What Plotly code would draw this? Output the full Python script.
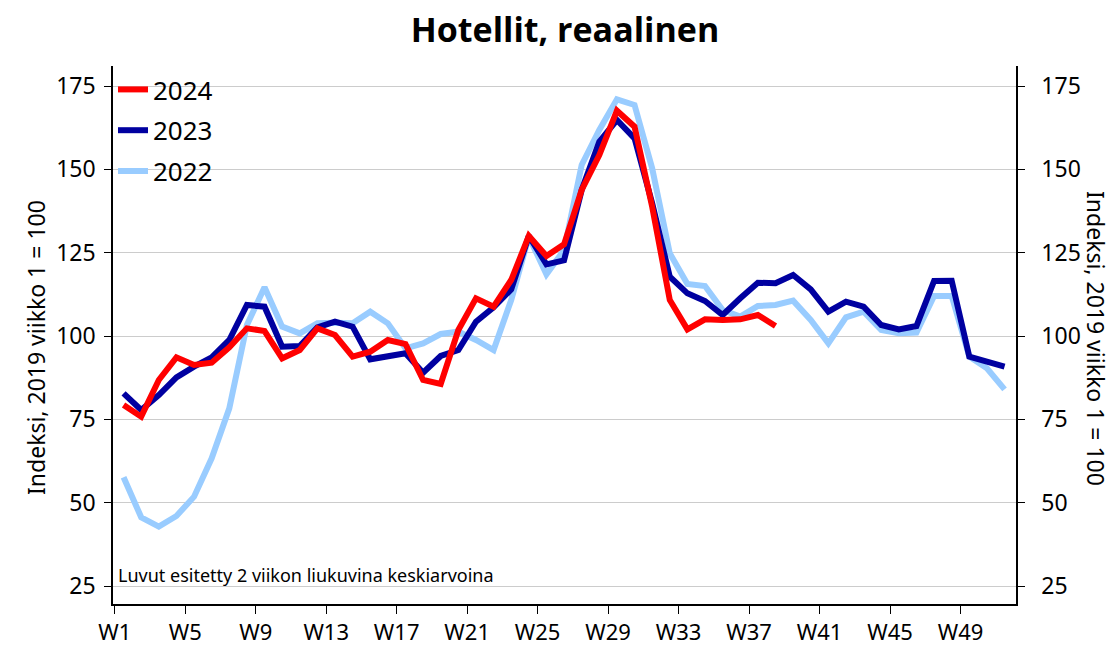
import plotly.graph_objects as go

weeks_2024 = list(range(1, 39))
weeks_full = list(range(1, 52))

values_2024 = [79.3, 75.8, 86.8, 93.6, 91.3, 92.0, 96.6, 102.3, 101.5, 93.3,
               95.8, 102.3, 100.3, 93.8, 95.3, 98.8, 97.6, 86.8, 85.6, 101.8,
               111.3, 108.8, 116.8, 130.0, 124.0, 127.5, 143.8, 154.3, 167.6, 162.8,
               138.8, 110.8, 102.0, 105.0, 104.8, 105.0, 106.3, 103.0]

values_2023 = [82.8, 77.8, 82.3, 87.6, 90.8, 93.6, 98.8, 109.3, 108.8, 96.8,
               97.0, 102.6, 104.3, 102.8, 93.0, 93.8, 94.8, 89.0, 94.0, 95.8,
               104.3, 108.6, 114.0, 130.0, 121.5, 122.7, 143.8, 158.3, 164.8, 159.3,
               139.8, 117.8, 112.8, 110.5, 106.3, 111.3, 116.0, 115.8, 118.3, 114.0,
               107.3, 110.3, 108.8, 103.3, 102.0, 103.0, 116.5, 116.6, 93.8, 92.3, 90.8]

values_2022 = [57.6, 45.6, 42.8, 46.0, 51.8, 63.3, 78.3, 103.3, 114.6, 102.8,
               100.8, 103.8, 104.0, 103.8, 107.3, 103.8, 96.3, 97.8, 100.6, 101.3,
               98.8, 95.8, 110.8, 129.8, 118.5, 125.8, 151.3, 161.8, 171.0, 169.3,
               150.3, 124.8, 115.6, 115.0, 107.8, 105.8, 109.0, 109.3, 110.6, 104.8,
               97.8, 105.6, 107.3, 101.8, 100.8, 101.0, 112.0, 112.0, 93.8, 90.3, 84.0]

tick_weeks = [1, 5, 9, 13, 17, 21, 25, 29, 33, 37, 41, 45, 49]
tick_labels = ["W%d" % w for w in tick_weeks]
y_ticks = [25, 50, 75, 100, 125, 150, 175]

FONT = "Noto Sans"
C2024 = "#FF0000"
C2023 = "#0000A0"
C2022 = "#99CCFF"
LW = 6

fig = go.Figure()
fig.add_trace(go.Scatter(x=weeks_full, y=values_2022, mode="lines", name="2022",
                         line=dict(color=C2022, width=LW), legendgroup="c", legendrank=3))
fig.add_trace(go.Scatter(x=weeks_full, y=values_2023, mode="lines", name="2023",
                         line=dict(color=C2023, width=LW), legendgroup="b", legendrank=2))
fig.add_trace(go.Scatter(x=weeks_2024, y=values_2024, mode="lines", name="2024",
                         line=dict(color=C2024, width=LW), legendgroup="a", legendrank=1))
# invisible trace to activate right axis
fig.add_trace(go.Scatter(x=weeks_full, y=values_2022, mode="lines", yaxis="y2",
                         line=dict(color="rgba(0,0,0,0)", width=0), showlegend=False,
                         hoverinfo="skip"))

yr = [19.6, 181]
fig.update_layout(
    width=1113, height=647,
    margin=dict(l=113, r=97, t=66, b=43, autoexpand=False),
    paper_bgcolor="white", plot_bgcolor="white",
    font=dict(family=FONT, color="black", size=22),
    title=dict(text="<b>Hotellit, reaalinen</b>", x=565/1113, xanchor="center",
               y=1 - 30/647, yanchor="middle", yref="container",
               font=dict(family="Open Sans", size=34, color="black")),
    showlegend=True,
    legend=dict(x=0.0, y=1.0, xanchor="left", yanchor="top", bgcolor="rgba(0,0,0,0)",
                font=dict(size=26, family=FONT), traceorder="grouped",
                tracegroupgap=4, itemwidth=30),
    xaxis=dict(range=[0.4, 51.65], tickvals=[w - 0.5 for w in tick_weeks], ticktext=tick_labels,
               showgrid=False, zeroline=False, showline=True, linecolor="black", linewidth=1.5,
               ticks="outside", ticklen=8, tickcolor="black", tickwidth=1, automargin=False,
               ticklabelstandoff=0, tickfont=dict(size=22)),
    yaxis=dict(range=yr, tickvals=y_ticks, showgrid=True, gridcolor="#CCCCCC", gridwidth=1,
               zeroline=False, showline=True, linecolor="black", linewidth=1.5,
               ticks="outside", ticklen=7, tickcolor="black", tickwidth=1, automargin=False,
               ticklabelstandoff=4, tickfont=dict(size=23)),
    yaxis2=dict(range=yr, tickvals=y_ticks, overlaying="y", side="right", showgrid=False,
                zeroline=False, showline=True, linecolor="black", linewidth=1.5,
                ticks="outside", ticklen=7, tickcolor="black", tickwidth=1, automargin=False,
                ticklabelstandoff=12, tickfont=dict(size=23)),
    annotations=[
        dict(text="Indeksi, 2019 viikko 1 = 100", xref="paper", yref="paper",
             x=(36-113)/903, y=(604-348)/538, xanchor="center", yanchor="middle",
             textangle=-90, showarrow=False, font=dict(size=23)),
        dict(text="Indeksi, 2019 viikko 1 = 100", xref="paper", yref="paper",
             x=(1096-113)/903, y=(604-338)/538, xanchor="center", yanchor="middle",
             textangle=90, showarrow=False, font=dict(size=23)),
        dict(text="Luvut esitetty 2 viikon liukuvina keskiarvoina", xref="paper", yref="paper",
             x=(116-113)/903, y=(604-575)/538, xanchor="left", yanchor="middle",
             showarrow=False, font=dict(size=18)),
    ],
)

fig.write_html("out.html", config={"displayModeBar": False},
               post_script="document.body.style.margin='0';")
